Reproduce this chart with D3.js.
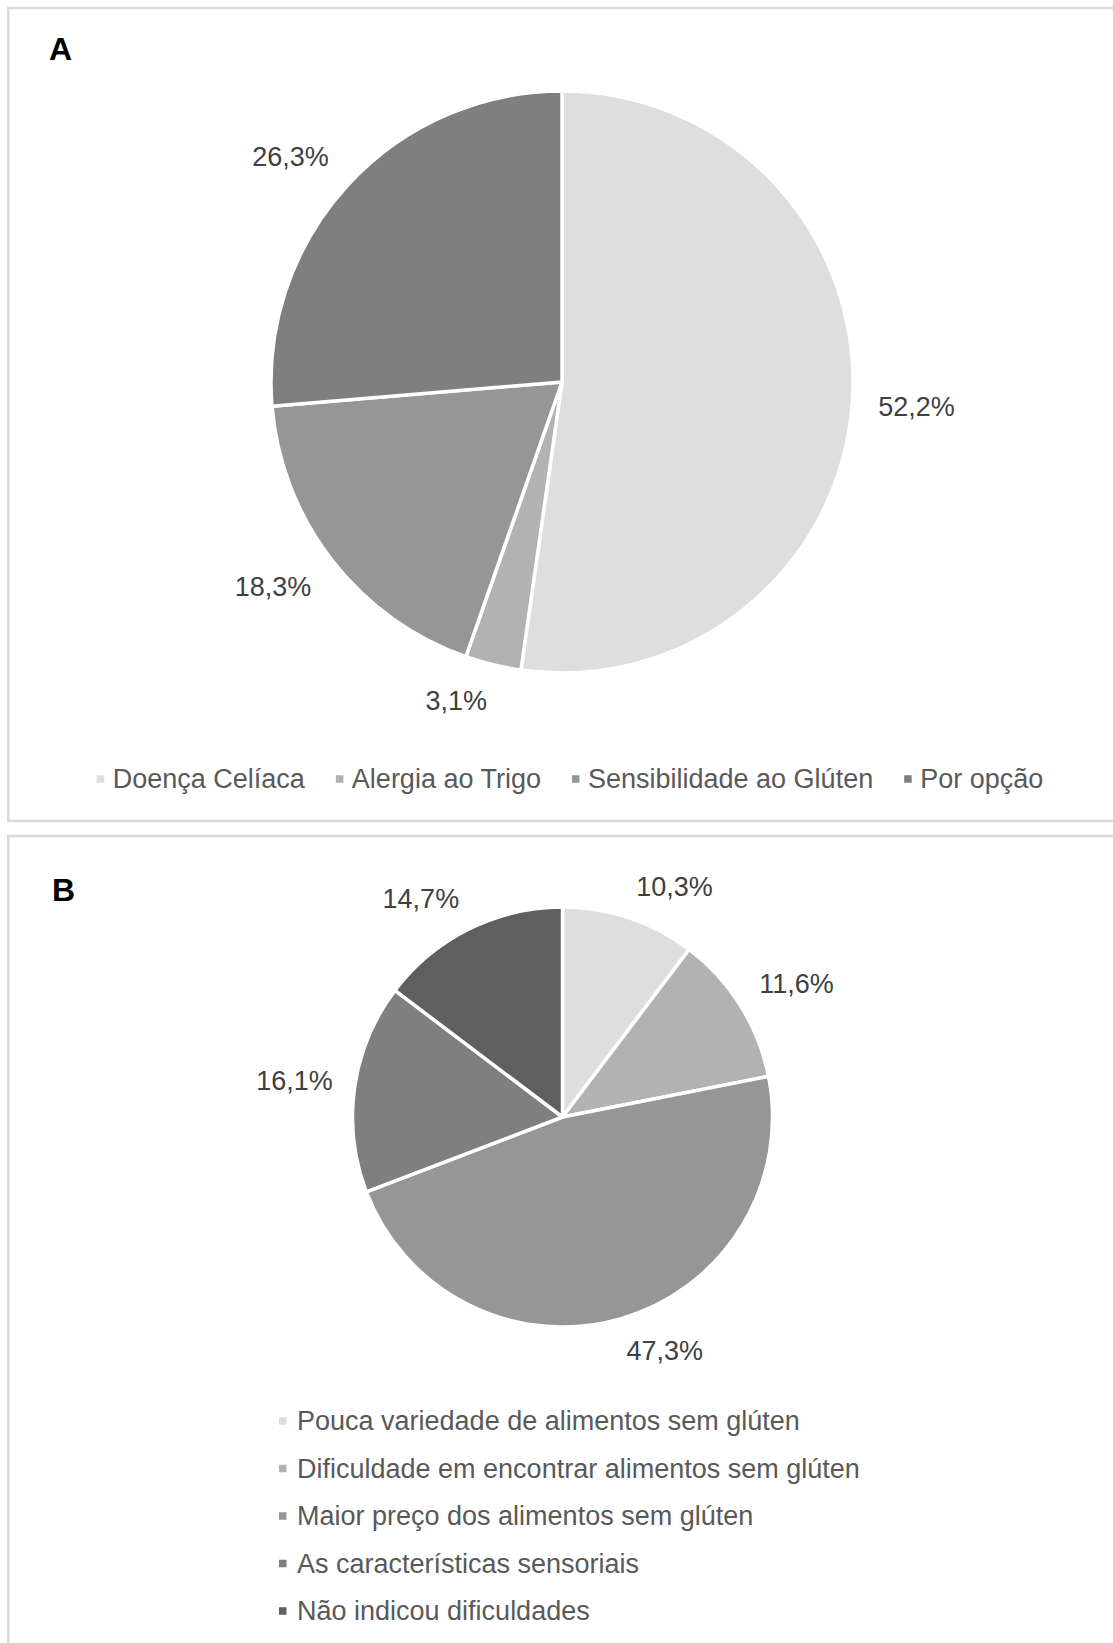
<!DOCTYPE html>
<meta charset="utf-8">
<head>
<style>
html, body{margin:0px; padding:0px; background:white;}
svg text { font-family: "Liberation Sans", Arial, sans-serif; }
</style>
</head>
<script src="https://d3js.org/d3.v7.min.js"></script>

<div id="my_dataviz"></div>

<script>

// panel A : motivo da dieta sem glúten
var reasonsA = ["Doença Celíaca", "Alergia ao Trigo", "Sensibilidade ao Glúten", "Por opção"]
var valuesA = [52.2, 3.1, 18.3, 26.3]
var colorsA = ["#dedede", "#b2b2b2", "#969696", "#7f7f7f"]

// panel B : dificuldades
var reasonsB = ["Pouca variedade de alimentos sem glúten",
  "Dificuldade em encontrar alimentos sem glúten",
  "Maior preço dos alimentos sem glúten",
  "As características sensoriais",
  "Não indicou dificuldades"]
var valuesB = [10.3, 11.6, 47.3, 16.1, 14.7]
var colorsB = ["#dedede", "#b2b2b2", "#969696", "#7f7f7f", "#5f5f5f"]

var width = 1113, height = 1643
var fontSize = 27

var svg = d3.select("#my_dataviz")
  .append("svg")
    .attr("width", width)
    .attr("height", height)

// portuguese number format 52,2%
var pt = d3.formatLocale({decimal: ",", thousands: ".", grouping: [3], currency: ["R$", ""]})
var fmt = pt.format(".1f")

// panel frames (they run off the right / bottom edge)
svg.append("rect")
  .attr("x", 8.3).attr("y", 8)
  .attr("width", 1130).attr("height", 813)
  .style("fill", "none").style("stroke", "#d9d9d9").style("stroke-width", 2.5)
svg.append("rect")
  .attr("x", 8.3).attr("y", 836)
  .attr("width", 1130).attr("height", 900)
  .style("fill", "none").style("stroke", "#d9d9d9").style("stroke-width", 2.5)

svg.append("text").attr("x", 49).attr("y", 60).text("A")
  .style("font-size", "32px").style("font-weight", "bold").style("fill", "#000")
svg.append("text").attr("x", 52).attr("y", 901).text("B")
  .style("font-size", "32px").style("font-weight", "bold").style("fill", "#000")

function drawPie(values, colors, cx, cy, r, gap) {
  var pie = d3.pie().sort(null).value(function(d) { return d })
  var arc = d3.arc().innerRadius(0).outerRadius(r)
  var arcs = pie(values)

  var g = svg.append("g").attr("transform", "translate(" + cx + "," + cy + ")")

  g.selectAll("path")
    .data(arcs)
    .enter()
    .append("path")
      .attr("d", arc)
      .style("fill", function(d, i) { return colors[i] })
      .style("stroke", "white")
      .style("stroke-width", 3.5)
      .style("stroke-linejoin", "round")

  // labels outside end: the side of the box facing the pie sits on the anchor point
  g.selectAll(".lbl")
    .data(arcs)
    .enter()
    .append("text")
      .attr("class", "lbl")
      .attr("text-anchor", "middle")
      .attr("dy", "0.35em")
      .style("font-size", fontSize + "px")
      .style("fill", "#404040")
      .text(function(d) { return fmt(d.value) + "%" })
      .each(function(d) {
        var a = (d.startAngle + d.endAngle) / 2
        var ux = Math.sin(a), uy = -Math.cos(a)
        var w = this.getComputedTextLength()
        var h = 21
        var px = ux * (r + gap), py = uy * (r + gap)
        var fy = Math.max(-1, Math.min(1, uy / 0.45))
        d3.select(this)
          .attr("x", px + Math.sign(ux) * w / 2)
          .attr("y", py + fy * h / 2)
      })
}

drawPie(valuesA, colorsA, 562, 382, 291, 26)
drawPie(valuesB, colorsB, 562.5, 1117, 210, 22)

// legend A, one row centred
var legA = svg.append("g")
var xpos = 0
reasonsA.forEach(function(name, i) {
  var item = legA.append("g").attr("transform", "translate(" + xpos + ",0)")
  item.append("rect")
    .attr("x", 0).attr("y", -3.75)
    .attr("width", 7.5).attr("height", 7.5)
    .style("fill", colorsA[i])
  var t = item.append("text")
    .attr("x", 16).attr("dy", "0.35em")
    .style("font-size", fontSize + "px")
    .style("fill", "#595959")
    .text(name)
  xpos += 16 + t.node().getComputedTextLength() + 31
})
var legWidth = xpos - 31
legA.attr("transform", "translate(" + (570 - legWidth / 2) + ",779)")

// legend B, one column
var legB = svg.append("g").attr("transform", "translate(279,1421)")
reasonsB.forEach(function(name, i) {
  var item = legB.append("g").attr("transform", "translate(0," + (i * 47.5) + ")")
  item.append("rect")
    .attr("x", 0).attr("y", -3.75)
    .attr("width", 7.5).attr("height", 7.5)
    .style("fill", colorsB[i])
  item.append("text")
    .attr("x", 18).attr("dy", "0.35em")
    .style("font-size", fontSize + "px")
    .style("fill", "#595959")
    .text(name)
})

</script>
</html>
